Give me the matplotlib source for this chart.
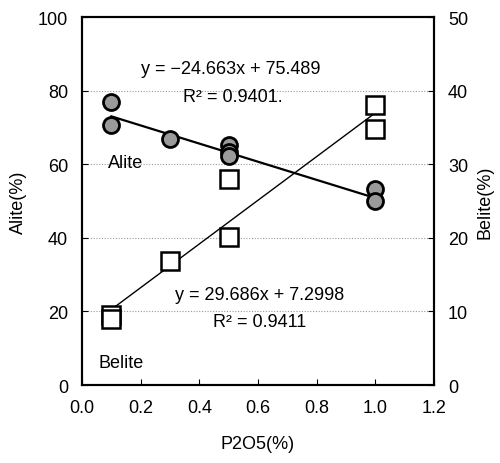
import numpy as np
import matplotlib.pyplot as plt

plt.rcParams['font.family'] = ['Liberation Sans', 'DejaVu Sans']

# Alite (left axis, circles)
alite_x = [0.1, 0.1, 0.3, 0.5, 0.5, 0.5, 1.0, 1.0]
alite_y = [76.9, 70.7, 66.8, 65.2, 63.3, 62.2, 53.3, 50.0]
# Belite (right axis, squares)
belite_x = [0.1, 0.1, 0.3, 0.5, 0.5, 1.0, 1.0]
belite_y = [9.5, 9.0, 16.8, 20.1, 28.0, 38.0, 34.8]

# fitted lines from the chart
alite_fit = (-24.663, 75.489)
belite_fit = (29.686, 7.2998)
fit_x = np.array([0.1, 1.0])

fig = plt.figure(figsize=(5, 4.64), dpi=100)
ax = fig.add_axes([0.164, 0.168, 0.704, 0.793])
ax2 = ax.twinx()

for y in [20, 40, 60, 80]:
    ax.axhline(y, color='#999999', lw=0.8, ls=(0, (1, 1.5)), zorder=0)

ax.plot(fit_x, alite_fit[0] * fit_x + alite_fit[1], color='black', lw=1.6, zorder=2)
ax.plot(alite_x, alite_y, 'o', ms=11.5, mfc='#9a9a9a', mec='black', mew=2, zorder=3)

ax2.plot(fit_x, belite_fit[0] * fit_x + belite_fit[1], color='black', lw=1.0, zorder=2)
ax2.plot(belite_x, belite_y, 's', ms=13, mfc='white', mec='black', mew=1.8, zorder=3)

ax.set_xlim(0, 1.2)
ax.set_ylim(0, 100)
ax2.set_ylim(0, 50)
ax.set_xticks(np.arange(0, 1.21, 0.2))
ax.set_xticklabels(['%.1f' % v for v in np.arange(0, 1.21, 0.2)])
ax.set_yticks(range(0, 101, 20))
ax2.set_yticks(range(0, 51, 10))

for a in (ax, ax2):
    a.tick_params(direction='in', length=4, labelsize=13, pad=10)
    for s in a.spines.values():
        s.set_linewidth(1.5)

ax.set_xlabel('P2O5(%)', fontsize=13, labelpad=14)
ax.set_ylabel('Alite(%)', fontsize=13, labelpad=8)
ax2.set_ylabel('Belite(%)', fontsize=13, labelpad=6)

fs = 13
ax.text(0.506, 85.9, 'y = \u221224.663x + 75.489', fontsize=fs, ha='center', va='center')
ax.text(0.513, 78.3, 'R\u00b2 = 0.9401.', fontsize=fs, ha='center', va='center')
ax.text(0.089, 60.6, 'Alite', fontsize=fs, va='center')
ax.text(0.605, 24.7, 'y = 29.686x + 7.2998', fontsize=fs, ha='center', va='center')
ax.text(0.605, 17.4, 'R\u00b2 = 0.9411', fontsize=fs, ha='center', va='center')
ax.text(0.055, 6.25, 'Belite', fontsize=fs, va='center')

fig.savefig('out.png', dpi=100)
